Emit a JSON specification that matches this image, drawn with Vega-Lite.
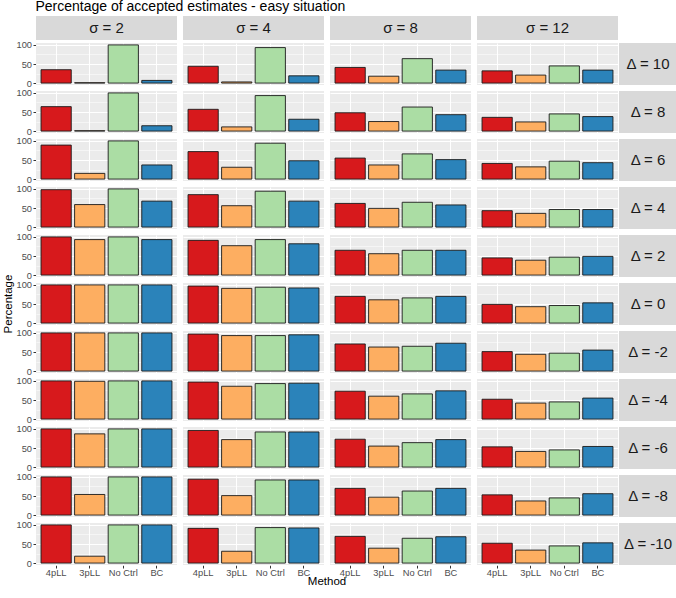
{
 "$schema": "https://vega.github.io/schema/vega-lite/v6.json",
 "padding": {"left": 2, "top": 0, "right": 0, "bottom": 0},
 "title": {"text": "Percentage of accepted estimates - easy situation", "anchor": "start", "dx": 33, "fontSize": 14, "fontWeight": "normal", "color": "#000000", "offset": 2},
 "datasets": {
  "sig": [{"s":"σ = 2","g":"strip"},{"s":"σ = 4","g":"strip"},{"s":"σ = 8","g":"strip"},{"s":"σ = 12","g":"strip"}],
  "del": [{"d":"Δ = 10"},{"d":"Δ = 8"},{"d":"Δ = 6"},{"d":"Δ = 4"},{"d":"Δ = 2"},{"d":"Δ = 0"},{"d":"Δ = -2"},{"d":"Δ = -4"},{"d":"Δ = -6"},{"d":"Δ = -8"},{"d":"Δ = -10"}],
  "bars": [
   {"s":"σ = 2","d":"Δ = 10","m":"4pLL","p":35},{"s":"σ = 2","d":"Δ = 10","m":"3pLL","p":1},{"s":"σ = 2","d":"Δ = 10","m":"No Ctrl","p":100},{"s":"σ = 2","d":"Δ = 10","m":"BC","p":7},
   {"s":"σ = 2","d":"Δ = 8","m":"4pLL","p":64},{"s":"σ = 2","d":"Δ = 8","m":"3pLL","p":1},{"s":"σ = 2","d":"Δ = 8","m":"No Ctrl","p":100},{"s":"σ = 2","d":"Δ = 8","m":"BC","p":14},
   {"s":"σ = 2","d":"Δ = 6","m":"4pLL","p":89},{"s":"σ = 2","d":"Δ = 6","m":"3pLL","p":15},{"s":"σ = 2","d":"Δ = 6","m":"No Ctrl","p":100},{"s":"σ = 2","d":"Δ = 6","m":"BC","p":37},
   {"s":"σ = 2","d":"Δ = 4","m":"4pLL","p":98},{"s":"σ = 2","d":"Δ = 4","m":"3pLL","p":59},{"s":"σ = 2","d":"Δ = 4","m":"No Ctrl","p":100},{"s":"σ = 2","d":"Δ = 4","m":"BC","p":68},
   {"s":"σ = 2","d":"Δ = 2","m":"4pLL","p":100},{"s":"σ = 2","d":"Δ = 2","m":"3pLL","p":93},{"s":"σ = 2","d":"Δ = 2","m":"No Ctrl","p":100},{"s":"σ = 2","d":"Δ = 2","m":"BC","p":93},
   {"s":"σ = 2","d":"Δ = 0","m":"4pLL","p":100},{"s":"σ = 2","d":"Δ = 0","m":"3pLL","p":100},{"s":"σ = 2","d":"Δ = 0","m":"No Ctrl","p":100},{"s":"σ = 2","d":"Δ = 0","m":"BC","p":100},
   {"s":"σ = 2","d":"Δ = -2","m":"4pLL","p":100},{"s":"σ = 2","d":"Δ = -2","m":"3pLL","p":100},{"s":"σ = 2","d":"Δ = -2","m":"No Ctrl","p":100},{"s":"σ = 2","d":"Δ = -2","m":"BC","p":100},
   {"s":"σ = 2","d":"Δ = -4","m":"4pLL","p":100},{"s":"σ = 2","d":"Δ = -4","m":"3pLL","p":99},{"s":"σ = 2","d":"Δ = -4","m":"No Ctrl","p":100},{"s":"σ = 2","d":"Δ = -4","m":"BC","p":100},
   {"s":"σ = 2","d":"Δ = -6","m":"4pLL","p":100},{"s":"σ = 2","d":"Δ = -6","m":"3pLL","p":87},{"s":"σ = 2","d":"Δ = -6","m":"No Ctrl","p":100},{"s":"σ = 2","d":"Δ = -6","m":"BC","p":100},
   {"s":"σ = 2","d":"Δ = -8","m":"4pLL","p":100},{"s":"σ = 2","d":"Δ = -8","m":"3pLL","p":54},{"s":"σ = 2","d":"Δ = -8","m":"No Ctrl","p":100},{"s":"σ = 2","d":"Δ = -8","m":"BC","p":100},
   {"s":"σ = 2","d":"Δ = -10","m":"4pLL","p":100},{"s":"σ = 2","d":"Δ = -10","m":"3pLL","p":18},{"s":"σ = 2","d":"Δ = -10","m":"No Ctrl","p":100},{"s":"σ = 2","d":"Δ = -10","m":"BC","p":100},

   {"s":"σ = 4","d":"Δ = 10","m":"4pLL","p":44},{"s":"σ = 4","d":"Δ = 10","m":"3pLL","p":3},{"s":"σ = 4","d":"Δ = 10","m":"No Ctrl","p":93},{"s":"σ = 4","d":"Δ = 10","m":"BC","p":19},
   {"s":"σ = 4","d":"Δ = 8","m":"4pLL","p":57},{"s":"σ = 4","d":"Δ = 8","m":"3pLL","p":11},{"s":"σ = 4","d":"Δ = 8","m":"No Ctrl","p":93},{"s":"σ = 4","d":"Δ = 8","m":"BC","p":31},
   {"s":"σ = 4","d":"Δ = 6","m":"4pLL","p":72},{"s":"σ = 4","d":"Δ = 6","m":"3pLL","p":31},{"s":"σ = 4","d":"Δ = 6","m":"No Ctrl","p":94},{"s":"σ = 4","d":"Δ = 6","m":"BC","p":48},
   {"s":"σ = 4","d":"Δ = 4","m":"4pLL","p":85},{"s":"σ = 4","d":"Δ = 4","m":"3pLL","p":56},{"s":"σ = 4","d":"Δ = 4","m":"No Ctrl","p":94},{"s":"σ = 4","d":"Δ = 4","m":"BC","p":68},
   {"s":"σ = 4","d":"Δ = 2","m":"4pLL","p":91},{"s":"σ = 4","d":"Δ = 2","m":"3pLL","p":77},{"s":"σ = 4","d":"Δ = 2","m":"No Ctrl","p":93},{"s":"σ = 4","d":"Δ = 2","m":"BC","p":82},
   {"s":"σ = 4","d":"Δ = 0","m":"4pLL","p":97},{"s":"σ = 4","d":"Δ = 0","m":"3pLL","p":91},{"s":"σ = 4","d":"Δ = 0","m":"No Ctrl","p":94},{"s":"σ = 4","d":"Δ = 0","m":"BC","p":92},
   {"s":"σ = 4","d":"Δ = -2","m":"4pLL","p":97},{"s":"σ = 4","d":"Δ = -2","m":"3pLL","p":93},{"s":"σ = 4","d":"Δ = -2","m":"No Ctrl","p":93},{"s":"σ = 4","d":"Δ = -2","m":"BC","p":95},
   {"s":"σ = 4","d":"Δ = -4","m":"4pLL","p":97},{"s":"σ = 4","d":"Δ = -4","m":"3pLL","p":86},{"s":"σ = 4","d":"Δ = -4","m":"No Ctrl","p":93},{"s":"σ = 4","d":"Δ = -4","m":"BC","p":94},
   {"s":"σ = 4","d":"Δ = -6","m":"4pLL","p":96},{"s":"σ = 4","d":"Δ = -6","m":"3pLL","p":72},{"s":"σ = 4","d":"Δ = -6","m":"No Ctrl","p":92},{"s":"σ = 4","d":"Δ = -6","m":"BC","p":92},
   {"s":"σ = 4","d":"Δ = -8","m":"4pLL","p":94},{"s":"σ = 4","d":"Δ = -8","m":"3pLL","p":51},{"s":"σ = 4","d":"Δ = -8","m":"No Ctrl","p":92},{"s":"σ = 4","d":"Δ = -8","m":"BC","p":92},
   {"s":"σ = 4","d":"Δ = -10","m":"4pLL","p":91},{"s":"σ = 4","d":"Δ = -10","m":"3pLL","p":31},{"s":"σ = 4","d":"Δ = -10","m":"No Ctrl","p":93},{"s":"σ = 4","d":"Δ = -10","m":"BC","p":92},

   {"s":"σ = 8","d":"Δ = 10","m":"4pLL","p":41},{"s":"σ = 8","d":"Δ = 10","m":"3pLL","p":18},{"s":"σ = 8","d":"Δ = 10","m":"No Ctrl","p":64},{"s":"σ = 8","d":"Δ = 10","m":"BC","p":34},
   {"s":"σ = 8","d":"Δ = 8","m":"4pLL","p":48},{"s":"σ = 8","d":"Δ = 8","m":"3pLL","p":25},{"s":"σ = 8","d":"Δ = 8","m":"No Ctrl","p":63},{"s":"σ = 8","d":"Δ = 8","m":"BC","p":43},
   {"s":"σ = 8","d":"Δ = 6","m":"4pLL","p":55},{"s":"σ = 8","d":"Δ = 6","m":"3pLL","p":37},{"s":"σ = 8","d":"Δ = 6","m":"No Ctrl","p":66},{"s":"σ = 8","d":"Δ = 6","m":"BC","p":51},
   {"s":"σ = 8","d":"Δ = 4","m":"4pLL","p":62},{"s":"σ = 8","d":"Δ = 4","m":"3pLL","p":49},{"s":"σ = 8","d":"Δ = 4","m":"No Ctrl","p":65},{"s":"σ = 8","d":"Δ = 4","m":"BC","p":58},
   {"s":"σ = 8","d":"Δ = 2","m":"4pLL","p":65},{"s":"σ = 8","d":"Δ = 2","m":"3pLL","p":56},{"s":"σ = 8","d":"Δ = 2","m":"No Ctrl","p":65},{"s":"σ = 8","d":"Δ = 2","m":"BC","p":65},
   {"s":"σ = 8","d":"Δ = 0","m":"4pLL","p":70},{"s":"σ = 8","d":"Δ = 0","m":"3pLL","p":61},{"s":"σ = 8","d":"Δ = 0","m":"No Ctrl","p":66},{"s":"σ = 8","d":"Δ = 0","m":"BC","p":70},
   {"s":"σ = 8","d":"Δ = -2","m":"4pLL","p":71},{"s":"σ = 8","d":"Δ = -2","m":"3pLL","p":63},{"s":"σ = 8","d":"Δ = -2","m":"No Ctrl","p":65},{"s":"σ = 8","d":"Δ = -2","m":"BC","p":73},
   {"s":"σ = 8","d":"Δ = -4","m":"4pLL","p":73},{"s":"σ = 8","d":"Δ = -4","m":"3pLL","p":60},{"s":"σ = 8","d":"Δ = -4","m":"No Ctrl","p":66},{"s":"σ = 8","d":"Δ = -4","m":"BC","p":74},
   {"s":"σ = 8","d":"Δ = -6","m":"4pLL","p":73},{"s":"σ = 8","d":"Δ = -6","m":"3pLL","p":55},{"s":"σ = 8","d":"Δ = -6","m":"No Ctrl","p":64},{"s":"σ = 8","d":"Δ = -6","m":"BC","p":72},
   {"s":"σ = 8","d":"Δ = -8","m":"4pLL","p":70},{"s":"σ = 8","d":"Δ = -8","m":"3pLL","p":47},{"s":"σ = 8","d":"Δ = -8","m":"No Ctrl","p":63},{"s":"σ = 8","d":"Δ = -8","m":"BC","p":70},
   {"s":"σ = 8","d":"Δ = -10","m":"4pLL","p":70},{"s":"σ = 8","d":"Δ = -10","m":"3pLL","p":39},{"s":"σ = 8","d":"Δ = -10","m":"No Ctrl","p":65},{"s":"σ = 8","d":"Δ = -10","m":"BC","p":69},

   {"s":"σ = 12","d":"Δ = 10","m":"4pLL","p":32},{"s":"σ = 12","d":"Δ = 10","m":"3pLL","p":21},{"s":"σ = 12","d":"Δ = 10","m":"No Ctrl","p":45},{"s":"σ = 12","d":"Δ = 10","m":"BC","p":34},
   {"s":"σ = 12","d":"Δ = 8","m":"4pLL","p":36},{"s":"σ = 12","d":"Δ = 8","m":"3pLL","p":24},{"s":"σ = 12","d":"Δ = 8","m":"No Ctrl","p":45},{"s":"σ = 12","d":"Δ = 8","m":"BC","p":38},
   {"s":"σ = 12","d":"Δ = 6","m":"4pLL","p":41},{"s":"σ = 12","d":"Δ = 6","m":"3pLL","p":32},{"s":"σ = 12","d":"Δ = 6","m":"No Ctrl","p":47},{"s":"σ = 12","d":"Δ = 6","m":"BC","p":43},
   {"s":"σ = 12","d":"Δ = 4","m":"4pLL","p":43},{"s":"σ = 12","d":"Δ = 4","m":"3pLL","p":36},{"s":"σ = 12","d":"Δ = 4","m":"No Ctrl","p":46},{"s":"σ = 12","d":"Δ = 4","m":"BC","p":46},
   {"s":"σ = 12","d":"Δ = 2","m":"4pLL","p":45},{"s":"σ = 12","d":"Δ = 2","m":"3pLL","p":39},{"s":"σ = 12","d":"Δ = 2","m":"No Ctrl","p":47},{"s":"σ = 12","d":"Δ = 2","m":"BC","p":49},
   {"s":"σ = 12","d":"Δ = 0","m":"4pLL","p":49},{"s":"σ = 12","d":"Δ = 0","m":"3pLL","p":43},{"s":"σ = 12","d":"Δ = 0","m":"No Ctrl","p":46},{"s":"σ = 12","d":"Δ = 0","m":"BC","p":53},
   {"s":"σ = 12","d":"Δ = -2","m":"4pLL","p":51},{"s":"σ = 12","d":"Δ = -2","m":"3pLL","p":44},{"s":"σ = 12","d":"Δ = -2","m":"No Ctrl","p":47},{"s":"σ = 12","d":"Δ = -2","m":"BC","p":55},
   {"s":"σ = 12","d":"Δ = -4","m":"4pLL","p":52},{"s":"σ = 12","d":"Δ = -4","m":"3pLL","p":42},{"s":"σ = 12","d":"Δ = -4","m":"No Ctrl","p":45},{"s":"σ = 12","d":"Δ = -4","m":"BC","p":55},
   {"s":"σ = 12","d":"Δ = -6","m":"4pLL","p":53},{"s":"σ = 12","d":"Δ = -6","m":"3pLL","p":41},{"s":"σ = 12","d":"Δ = -6","m":"No Ctrl","p":45},{"s":"σ = 12","d":"Δ = -6","m":"BC","p":54},
   {"s":"σ = 12","d":"Δ = -8","m":"4pLL","p":53},{"s":"σ = 12","d":"Δ = -8","m":"3pLL","p":37},{"s":"σ = 12","d":"Δ = -8","m":"No Ctrl","p":45},{"s":"σ = 12","d":"Δ = -8","m":"BC","p":56},
   {"s":"σ = 12","d":"Δ = -10","m":"4pLL","p":52},{"s":"σ = 12","d":"Δ = -10","m":"3pLL","p":34},{"s":"σ = 12","d":"Δ = -10","m":"No Ctrl","p":45},{"s":"σ = 12","d":"Δ = -10","m":"BC","p":53}
  ]
 },
 "vconcat": [
  {
   "data": {"name": "sig"},
   "facet": {
    "row": {"field": "g", "type": "nominal", "header": {"title": "P", "titleColor": "transparent", "titleFontSize": 11.5, "titleFontWeight": "normal", "titlePadding": -9, "labels": false, "labelPadding": 0}},
    "column": {"field": "s", "type": "nominal", "sort": ["σ = 2","σ = 4","σ = 8","σ = 12"], "header": null}
   },
   "spacing": {"column": 6, "row": 6},
   "spec": {
    "width": 141, "height": 24,
    "view": {"fill": "#D9D9D9", "stroke": null},
    "mark": {"type": "text", "fontSize": 15, "color": "#1A1A1A", "baseline": "middle"},
    "encoding": {
     "text": {"field": "s", "type": "nominal"},
     "y": {"datum": 50, "type": "quantitative", "scale": {"domain": [-5, 105], "nice": false}, "axis": {"values": [50], "labelExpr": "'100'", "labelColor": "transparent", "tickColor": "transparent", "grid": false, "domain": false, "title": null, "labelOverlap": false}}
    }
   }
  },
  {
   "hconcat": [
    {
     "data": {"name": "bars"},
     "facet": {
      "row": {"field": "d", "type": "nominal", "sort": ["Δ = 10","Δ = 8","Δ = 6","Δ = 4","Δ = 2","Δ = 0","Δ = -2","Δ = -4","Δ = -6","Δ = -8","Δ = -10"], "header": {"title": "Percentage", "titleFontSize": 11.5, "titleFontWeight": "normal", "titleColor": "#000000", "titlePadding": -9, "labels": false, "labelPadding": 0}},
      "column": {"field": "s", "type": "nominal", "sort": ["σ = 2","σ = 4","σ = 8","σ = 12"], "header": {"title": "Method", "titleOrient": "bottom", "labelOrient": "bottom", "titleFontSize": 11.5, "titleFontWeight": "normal", "titleColor": "#000000", "titlePadding": -12, "labels": false, "labelPadding": 0}}
     },
     "spacing": {"row": 6, "column": 6},
     "spec": {
      "width": 141, "height": 42,
      "view": {"fill": "#EBEBEB", "stroke": null},
      "mark": {"type": "bar", "stroke": "#1A1A1A", "strokeWidth": 0.9},
      "encoding": {
       "x": {"field": "m", "type": "nominal", "sort": ["4pLL","3pLL","No Ctrl","BC"], "scale": {"paddingInner": 0.1, "paddingOuter": 0.15}, "axis": {"title": null, "labelAngle": 0, "grid": true, "gridColor": "#FFFFFF", "gridWidth": 1.1, "bandPosition": 0.5, "domain": false, "tickColor": "#333333", "tickSize": 3, "labelColor": "#4D4D4D", "labelFontSize": 9.3, "labelPadding": 0}},
       "y": {"field": "p", "type": "quantitative", "scale": {"domain": [-5, 105], "nice": false}, "axis": {"title": null, "values": [0, 25, 50, 75, 100], "labelExpr": "datum.value % 50 === 0 ? datum.label : ''", "tickOpacity": {"condition": {"test": "datum.value % 50 === 0", "value": 1}, "value": 0}, "gridWidth": {"condition": {"test": "datum.value % 50 === 0", "value": 1.1}, "value": 0.5}, "gridColor": "#FFFFFF", "grid": true, "domain": false, "labelOverlap": false}},
       "fill": {"field": "m", "type": "nominal", "scale": {"domain": ["4pLL","3pLL","No Ctrl","BC"], "range": ["#D7191C","#FDAE61","#ABDDA4","#2B83BA"]}, "legend": null}
      }
     }
    },
    {
     "data": {"name": "del"},
     "facet": {
      "row": {"field": "d", "type": "nominal", "sort": ["Δ = 10","Δ = 8","Δ = 6","Δ = 4","Δ = 2","Δ = 0","Δ = -2","Δ = -4","Δ = -6","Δ = -8","Δ = -10"], "header": null}
     },
     "spacing": {"row": 6},
     "spec": {
      "width": 58, "height": 42,
      "view": {"fill": "#D9D9D9", "stroke": null},
      "mark": {"type": "text", "fontSize": 15, "color": "#1A1A1A", "baseline": "middle"},
      "encoding": {"text": {"field": "d", "type": "nominal"}}
     }
    }
   ],
   "spacing": 1
  }
 ],
 "spacing": 0,
 "config": {
  "font": "Liberation Sans",
  "view": {"stroke": null},
  "axisY": {"labelFontSize": 9.3, "labelPadding": 1.5, "tickSize": 3, "labelColor": "#4D4D4D", "tickColor": "#333333", "minExtent": 0}
 }
}
